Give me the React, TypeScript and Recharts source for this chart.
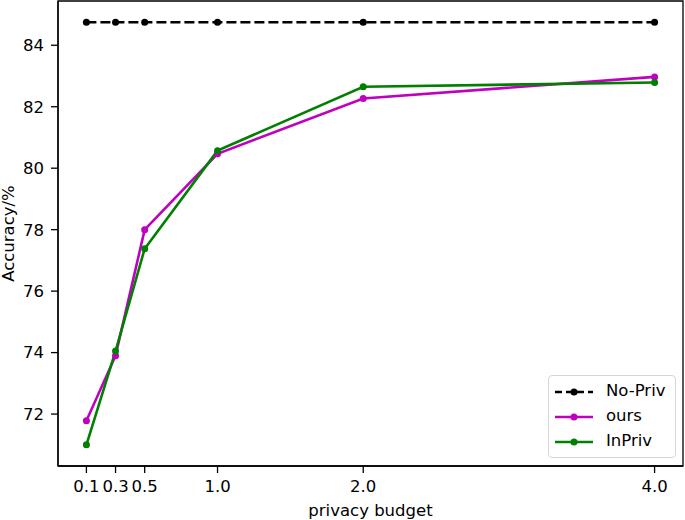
import { Line, LineChart, ReferenceArea, XAxis, YAxis } from "recharts";

const budgets = [0.1, 0.3, 0.5, 1.0, 2.0, 4.0];
const noPriv = [84.75, 84.75, 84.75, 84.75, 84.75, 84.75];
const ours = [71.78, 73.9, 78.0, 80.47, 82.27, 82.97];
const inPriv = [71.0, 74.05, 77.38, 80.57, 82.65, 82.79];
const yTicks = [72, 74, 76, 78, 80, 82, 84];

const data = budgets.map((b, i) => ({
  budget: b,
  noPriv: noPriv[i],
  ours: ours[i],
  inPriv: inPriv[i],
}));

const font = "DejaVu Sans, sans-serif";
const fs = 16.5;
const xDomain = [-0.095, 4.195];
const yDomain = [70.31, 85.44];

const legendItems = [
  { name: "No-Priv", color: "#000000", dash: "7 4" },
  { name: "ours", color: "#bf00bf", dash: undefined },
  { name: "InPriv", color: "#008000", dash: undefined },
];

// matplotlib-style legend box, drawn over the plot
const LegendBox = () => (
  <div
    style={{
      position: "absolute",
      left: 548,
      top: 375,
      width: 128,
      height: 83,
      border: "1px solid #d6d6d6",
      borderRadius: 4,
      background: "rgba(255,255,255,0.8)",
      boxSizing: "border-box",
      padding: "3px 0 0 6px",
      fontFamily: font,
      fontSize: fs,
      lineHeight: 1,
    }}
  >
    {legendItems.map((it) => (
      <div key={it.name} style={{ display: "flex", alignItems: "center", height: 25 }}>
        <svg width={38} height={10} style={{ display: "block" }}>
          <line x1={0} y1={5} x2={38} y2={5} stroke={it.color} strokeWidth={2.6} strokeDasharray={it.dash} />
          <circle cx={19} cy={5} r={3.5} fill={it.color} />
        </svg>
        <span style={{ marginLeft: 13, color: "#000" }}>{it.name}</span>
      </div>
    ))}
  </div>
);

export default function App() {
  return (
    <div style={{ position: "absolute", left: 0, top: 0, width: 685, height: 520, background: "#fff" }}>
      <LineChart
        width={685}
        height={520}
        data={data}
        margin={{ top: 1, right: 2, bottom: 0, left: 0 }}
      >
        <XAxis
          dataKey="budget"
          type="number"
          domain={xDomain}
          ticks={budgets}
          interval={0}
          allowDataOverflow
          tickFormatter={(v: number) => v.toFixed(1)}
          height={54}
          tickSize={7}
          tickMargin={7}
          axisLine={{ stroke: "#000", strokeWidth: 1.3 }}
          tickLine={{ stroke: "#000", strokeWidth: 1.3 }}
          tick={{ fill: "#000", fontSize: fs, fontFamily: font }}
          label={{
            content: (p: any) => {
              const vb = p.viewBox;
              return (
                <text x={vb.x + vb.width / 2} y={516} textAnchor="middle" fill="#000" fontSize={fs} fontFamily={font}>
                  privacy budget
                </text>
              );
            },
          }}
        />
        <YAxis
          type="number"
          domain={yDomain}
          ticks={yTicks}
          allowDataOverflow
          width={58}
          tickSize={7}
          tickMargin={7}
          axisLine={{ stroke: "#000", strokeWidth: 1.3 }}
          tickLine={{ stroke: "#000", strokeWidth: 1.3 }}
          tick={{ fill: "#000", fontSize: fs, fontFamily: font }}
          label={{
            content: (p: any) => {
              const vb = p.viewBox;
              const cy = vb.y + vb.height / 2;
              return (
                <text
                  x={14}
                  y={cy}
                  transform={`rotate(-90, 14, ${cy})`}
                  textAnchor="middle"
                  fill="#000"
                  fontSize={fs}
                  fontFamily={font}
                >
                  Accuracy/%
                </text>
              );
            },
          }}
        />
        <ReferenceArea
          x1={xDomain[0]}
          x2={xDomain[1]}
          y1={yDomain[0]}
          y2={yDomain[1]}
          fill="none"
          stroke="#000"
          strokeWidth={1.3}
        />
        <Line
          dataKey="noPriv"
          stroke="#000"
          strokeWidth={2.6}
          strokeDasharray="10 4"
          dot={{ r: 3.5, fill: "#000", stroke: "none" }}
          isAnimationActive={false}
        />
        <Line
          dataKey="ours"
          stroke="#bf00bf"
          strokeWidth={2.6}
          dot={{ r: 3.5, fill: "#bf00bf", stroke: "none" }}
          isAnimationActive={false}
        />
        <Line
          dataKey="inPriv"
          stroke="#008000"
          strokeWidth={2.6}
          dot={{ r: 3.5, fill: "#008000", stroke: "none" }}
          isAnimationActive={false}
        />
      </LineChart>
      <LegendBox />
    </div>
  );
}
